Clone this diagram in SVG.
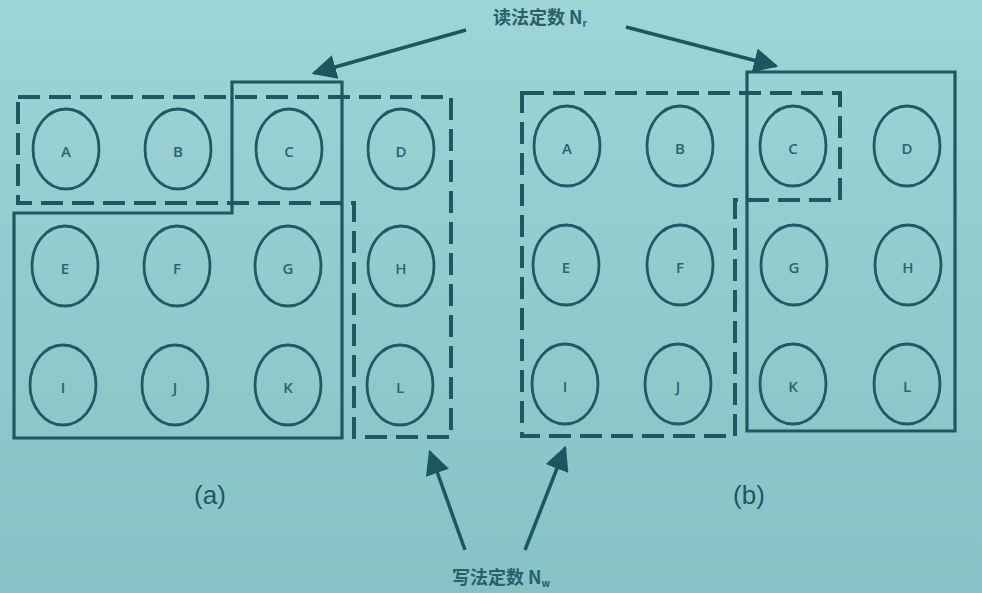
<svg xmlns="http://www.w3.org/2000/svg" width="982" height="593" viewBox="0 0 982 593">
<defs>
<linearGradient id="bg" x1="0" y1="0" x2="0" y2="1">
<stop offset="0" stop-color="#9ed5d7"/>
<stop offset="0.5" stop-color="#90cbce"/>
<stop offset="1" stop-color="#87c3c6"/>
</linearGradient>
<marker id="ah" viewBox="0 0 10 10" refX="9" refY="5" markerWidth="7" markerHeight="7" orient="auto" markerUnits="strokeWidth">
<path d="M0,0 L10,5 L0,10 Z" fill="#1f5560"/>
</marker>
<style>
.c{fill:none;stroke:#1f5a66;stroke-width:2.8}
.l{font-family:"Open Sans","Liberation Sans",sans-serif;font-size:15px;font-weight:600;fill:#2a6470;text-anchor:middle;dominant-baseline:central}
.solid{fill:none;stroke:#1f5763;stroke-width:3.2;stroke-linejoin:miter}
.dash{fill:none;stroke:#1f5763;stroke-width:4;stroke-dasharray:22 9}
.arr{fill:none;stroke:#1f5560;stroke-width:3.5}
.cap{font-family:"Liberation Sans","Open Sans",sans-serif;font-size:26px;fill:#1f5763;text-anchor:middle}
.zh{font-family:"Noto Sans CJK SC",serif;font-size:18px;font-weight:bold;fill:#2a5f6b}
</style>
</defs>
<rect width="982" height="593" fill="url(#bg)"/>

<g id="a-nodes">
<g id="a-A"><ellipse class="c" cx="66" cy="149" rx="33" ry="40"/><text class="l" x="66" y="151">A</text></g>
<g id="a-B"><ellipse class="c" cx="178" cy="149" rx="33" ry="40"/><text class="l" x="178" y="151">B</text></g>
<g id="a-C"><ellipse class="c" cx="289" cy="149" rx="33" ry="40"/><text class="l" x="289" y="151">C</text></g>
<g id="a-D"><ellipse class="c" cx="401" cy="149" rx="33" ry="40"/><text class="l" x="401" y="151">D</text></g>
<g id="a-E"><ellipse class="c" cx="65" cy="266" rx="33" ry="40"/><text class="l" x="65" y="268">E</text></g>
<g id="a-F"><ellipse class="c" cx="177" cy="266" rx="33" ry="40"/><text class="l" x="177" y="268">F</text></g>
<g id="a-G"><ellipse class="c" cx="288" cy="266" rx="33" ry="40"/><text class="l" x="288" y="268">G</text></g>
<g id="a-H"><ellipse class="c" cx="401" cy="266" rx="33" ry="40"/><text class="l" x="401" y="268">H</text></g>
<g id="a-I"><ellipse class="c" cx="63" cy="385" rx="33" ry="40"/><text class="l" x="63" y="387">I</text></g>
<g id="a-J"><ellipse class="c" cx="175" cy="385" rx="33" ry="40"/><text class="l" x="175" y="387">J</text></g>
<g id="a-K"><ellipse class="c" cx="288" cy="385" rx="33" ry="40"/><text class="l" x="288" y="387">K</text></g>
<g id="a-L"><ellipse class="c" cx="400" cy="385" rx="33" ry="40"/><text class="l" x="400" y="387">L</text></g>
</g>

<g id="b-nodes">
<g id="b-A"><ellipse class="c" cx="567" cy="146" rx="33" ry="40"/><text class="l" x="567" y="148">A</text></g>
<g id="b-B"><ellipse class="c" cx="680" cy="146" rx="33" ry="40"/><text class="l" x="680" y="148">B</text></g>
<g id="b-C"><ellipse class="c" cx="793" cy="146" rx="33" ry="40"/><text class="l" x="793" y="148">C</text></g>
<g id="b-D"><ellipse class="c" cx="907" cy="146" rx="33" ry="40"/><text class="l" x="907" y="148">D</text></g>
<g id="b-E"><ellipse class="c" cx="566" cy="265" rx="33" ry="40"/><text class="l" x="566" y="267">E</text></g>
<g id="b-F"><ellipse class="c" cx="680" cy="265" rx="33" ry="40"/><text class="l" x="680" y="267">F</text></g>
<g id="b-G"><ellipse class="c" cx="794" cy="265" rx="33" ry="40"/><text class="l" x="794" y="267">G</text></g>
<g id="b-H"><ellipse class="c" cx="908" cy="265" rx="33" ry="40"/><text class="l" x="908" y="267">H</text></g>
<g id="b-I"><ellipse class="c" cx="565" cy="384" rx="33" ry="40"/><text class="l" x="565" y="386">I</text></g>
<g id="b-J"><ellipse class="c" cx="678" cy="384" rx="33" ry="40"/><text class="l" x="678" y="386">J</text></g>
<g id="b-K"><ellipse class="c" cx="793" cy="384" rx="33" ry="40"/><text class="l" x="793" y="386">K</text></g>
<g id="b-L"><ellipse class="c" cx="907" cy="384" rx="33" ry="40"/><text class="l" x="907" y="386">L</text></g>
</g>

<g id="quorums">
<path id="a-write" class="dash" d="M18,97 H451 V437 H354 V203 H18 Z"/>
<path id="a-read" class="solid" d="M232,82 H342 V438 H14 V213 H232 Z"/>
<path id="b-write" class="dash" d="M522,93 H840 V200 H735 V436 H522 Z"/>
<path id="b-read" class="solid" d="M747,72 H955 V431 H747 Z"/>
</g>

<g id="connectors">
<line class="arr" x1="466" y1="30" x2="314" y2="73" marker-end="url(#ah)"/>
<line class="arr" x1="626" y1="27" x2="776" y2="66" marker-end="url(#ah)"/>
<line class="arr" x1="465" y1="550" x2="430" y2="452" marker-end="url(#ah)"/>
<line class="arr" x1="525" y1="550" x2="565" y2="448" marker-end="url(#ah)"/>
</g>

<g id="labels">
<text class="zh" x="493" y="24">读法定数 N<tspan font-size="10" dy="3">r</tspan></text>
<text class="zh" x="452" y="584">写法定数 N<tspan font-size="10" dy="3">w</tspan></text>
<text class="cap" x="210" y="504">(a)</text>
<text class="cap" x="749" y="504">(b)</text>
</g>
</svg>
